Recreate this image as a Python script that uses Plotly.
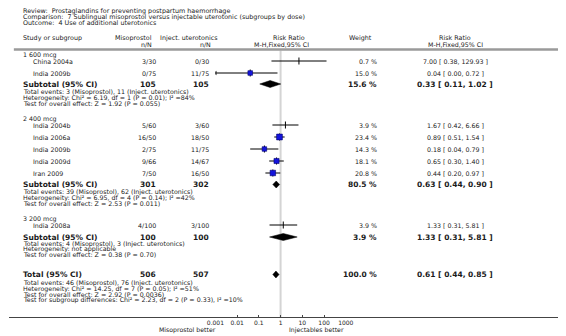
import plotly.graph_objects as go

W, H = 566, 336

# ---------------- data ----------------
review = "Review:  Prostaglandins for preventing postpartum haemorrhage"
comparison = "Comparison:  7 Sublingual misoprostol versus injectable uterotonic (subgroups by dose)"
outcome = "Outcome:  4 Use of additional uterotonics"

subgroups = ["1 600 mcg", "2 400 mcg", "3 200 mcg"]
study_names = [["China 2004a", "India 2009b"],
               ["India 2004b", "India 2006a", "India 2009b", "India 2009d", "Iran 2009"],
               ["India 2008a"]]
miso_events = [[3, 0], [5, 16, 2, 9, 7], [4]]
miso_total = [[30, 75], [60, 50, 75, 66, 50], [100]]
inj_events = [[0, 11], [3, 18, 11, 14, 16], [3]]
inj_total = [[30, 75], [60, 50, 75, 67, 50], [100]]
weights = [[0.7, 15.0], [3.9, 23.4, 14.3, 18.1, 20.8], [3.9]]
rr = [[7.00, 0.04], [1.67, 0.89, 0.18, 0.65, 0.44], [1.33]]
rr_lo = [[0.38, 0.00], [0.42, 0.51, 0.04, 0.30, 0.20], [0.31]]
rr_hi = [[129.93, 0.72], [6.66, 1.54, 0.79, 1.40, 0.97], [5.81]]

sub_miso_n = [105, 301, 100]
sub_inj_n = [105, 302, 100]
sub_weight = [15.6, 80.5, 3.9]
sub_rr = [0.33, 0.63, 1.33]
sub_lo = [0.11, 0.44, 0.31]
sub_hi = [1.02, 0.90, 5.81]
sub_stats = [
    ["Total events: 3 (Misoprostol), 11 (Inject. uterotonics)",
     "Heterogeneity: Chi² = 6.19, df = 1 (P = 0.01); I² =84%",
     "Test for overall effect: Z = 1.92 (P = 0.055)"],
    ["Total events: 39 (Misoprostol), 62 (Inject. uterotonics)",
     "Heterogeneity: Chi² = 6.95, df = 4 (P = 0.14); I² =42%",
     "Test for overall effect: Z = 2.53 (P = 0.011)"],
    ["Total events: 4 (Misoprostol), 3 (Inject. uterotonics)",
     "Heterogeneity: not applicable",
     "Test for overall effect: Z = 0.38 (P = 0.70)"],
]
total_miso_n = 506
total_inj_n = 507
total_weight = 100.0
total_rr, total_lo, total_hi = 0.61, 0.44, 0.85
total_stats = ["Total events: 46 (Misoprostol), 76 (Inject. uterotonics)",
               "Heterogeneity: Chi² = 14.25, df = 7 (P = 0.05); I² =51%",
               "Test for overall effect: Z = 2.92 (P = 0.0036)",
               "Test for subgroup differences: Chi² = 2.23, df = 2 (P = 0.33), I² =10%"]

tick_vals = [0.001, 0.01, 0.1, 1, 10, 100, 1000]
tick_text = ["0.001", "0.01", "0.1", "1", "10", "100", "1000"]
left_label = "Misoprostol better"
right_label = "Injectables better"

# ---------------- layout (pixel rows / columns) ----------------
FONT = "DejaVu Sans"
FS = 6.3       # regular text
FB = 7.5       # bold summary rows
title_y = [10.5, 16.5, 22.5]
hdr1_y, hdr2_y, hdr_line_y = 38, 44, 49.5
group_label_y = [55, 119, 219]
study_y = [[61, 73], [125, 137, 149, 161, 173], [225]]
sub_y = [84, 184.5, 237]
sub_stats_y = [[92, 97.7, 103.4], [192, 197.7, 203.4], [243.5, 249.2, 254.9]]
total_y = 274.5
total_stats_y = [283, 288.7, 294.4, 300.1]
axis_y = 317.5
better_y = 329.5

X_LEFT, X_STUDY = 13, 24
X_MISO_R, X_INJ_R = 153, 207
X_NULL = 280.0
DECADE = 22.4
X_WEIGHT_R = 380
X_RR_C = 460
AX_MIN, AX_MAX = 0.001, 1000
x0_px = X_NULL - 3 * DECADE
x1_px = X_NULL + 3 * DECADE

fig = go.Figure()


def txt(x, y, s, anchor="left", size=FS, bold=False, color="#1a1a1a"):
    fig.add_annotation(x=x, y=y, xref="x", yref="y",
                       text=("<b>%s</b>" % s) if bold else s,
                       showarrow=False, xanchor=anchor, yanchor="middle",
                       borderpad=0,
                       font=dict(family=FONT, size=size, color=color))


# titles
for s, y in zip([review, comparison, outcome], title_y):
    txt(X_LEFT, y, s, size=6.4)

# headers
txt(X_LEFT, hdr1_y, "Study or subgroup", size=6.4)
txt(148, hdr1_y, "Misoprostol", anchor="right", size=6.4)
txt(148, hdr2_y, "n/N", anchor="right")
txt(155, hdr1_y, "Inject. uterotonics", size=6.4)
txt(209, hdr2_y, "n/N", anchor="right")
txt(271, hdr1_y, "Risk Ratio", size=6.4)
txt(252, hdr2_y, "M-H,Fixed,95% CI")
txt(362, hdr1_y, "Weight", anchor="center", size=6.4)
txt(X_RR_C, hdr1_y, "Risk Ratio", anchor="center", size=6.4)
txt(X_RR_C, hdr2_y, "M-H,Fixed,95% CI", anchor="center")

fig.add_shape(type="line", xref="x", yref="y", x0=5, x1=W, y0=hdr_line_y, y1=hdr_line_y,
              line=dict(color="#9a9a9a", width=2.5))

# null line
fig.add_trace(go.Scatter(x=[1, 1], y=[hdr_line_y + 1, axis_y], mode="lines", xaxis="x2", yaxis="y",
                         line=dict(color="#d4d4d4", width=2), hoverinfo="skip", showlegend=False))

fmt_rr = lambda a, b, c: "%.2f [ %.2f, %.2f ]" % (a, b, c)

for g in range(len(subgroups)):
    txt(X_LEFT, group_label_y[g], subgroups[g])
    for i, name in enumerate(study_names[g]):
        y = study_y[g][i]
        txt(X_STUDY, y, name)
        txt(X_MISO_R, y, "%d/%d" % (miso_events[g][i], miso_total[g][i]), anchor="right")
        txt(X_INJ_R, y, "%d/%d" % (inj_events[g][i], inj_total[g][i]), anchor="right")
        txt(X_WEIGHT_R, y, "%.1f %%" % weights[g][i], anchor="right")
        txt(X_RR_C, y, fmt_rr(rr[g][i], rr_lo[g][i], rr_hi[g][i]), anchor="center")
        lo = max(rr_lo[g][i], AX_MIN)
        hi = min(rr_hi[g][i], AX_MAX)
        fig.add_trace(go.Scatter(x=[lo, hi], y=[y, y], mode="lines", xaxis="x2", yaxis="y",
                                 line=dict(color="black", width=1), hoverinfo="skip", showlegend=False))
        if rr_lo[g][i] < AX_MIN:
            fig.add_trace(go.Scatter(x=[AX_MIN], y=[y], mode="markers", xaxis="x2", yaxis="y",
                                     marker=dict(symbol="triangle-left", size=4, color="black"),
                                     hoverinfo="skip", showlegend=False))
        fig.add_trace(go.Scatter(x=[rr[g][i]], y=[y], mode="markers", xaxis="x2", yaxis="y",
                                 marker=dict(symbol="line-ns", size=5, line=dict(color="black", width=1)),
                                 hoverinfo="skip", showlegend=False))
        side = 1.2 * weights[g][i] ** 0.5
        if side >= 3:
            fig.add_trace(go.Scatter(x=[rr[g][i]], y=[y], mode="markers", xaxis="x2", yaxis="y",
                                     marker=dict(symbol="square", size=side, color="#1414dc",
                                                 line=dict(color="#000070", width=0.6)),
                                     hoverinfo="skip", showlegend=False))
    # subtotal
    y = sub_y[g]
    txt(X_LEFT, y, "Subtotal (95% CI)", size=FB, bold=True)
    txt(X_MISO_R, y, str(sub_miso_n[g]), anchor="right", size=FB, bold=True)
    txt(X_INJ_R, y, str(sub_inj_n[g]), anchor="right", size=FB, bold=True)
    txt(X_WEIGHT_R, y, "%.1f %%" % sub_weight[g], anchor="right", size=FB, bold=True)
    txt(X_RR_C, y, fmt_rr(sub_rr[g], sub_lo[g], sub_hi[g]), anchor="center", size=FB, bold=True)
    fig.add_trace(go.Scatter(x=[sub_lo[g], sub_rr[g], sub_hi[g], sub_rr[g], sub_lo[g]],
                             y=[y, y - 3.5, y, y + 3.5, y], mode="lines", fill="toself",
                             fillcolor="black", xaxis="x2", yaxis="y",
                             line=dict(color="black", width=0.5), hoverinfo="skip", showlegend=False))
    for s, yy in zip(sub_stats[g], sub_stats_y[g]):
        txt(X_LEFT, yy, s)

# total
y = total_y
txt(X_LEFT, y, "Total (95% CI)", size=FB, bold=True)
txt(X_MISO_R, y, str(total_miso_n), anchor="right", size=FB, bold=True)
txt(X_INJ_R, y, str(total_inj_n), anchor="right", size=FB, bold=True)
txt(X_WEIGHT_R, y, "%.1f %%" % total_weight, anchor="right", size=FB, bold=True)
txt(X_RR_C, y, fmt_rr(total_rr, total_lo, total_hi), anchor="center", size=FB, bold=True)
fig.add_trace(go.Scatter(x=[total_lo, total_rr, total_hi, total_rr, total_lo],
                         y=[y, y - 3.5, y, y + 3.5, y], mode="lines", fill="toself",
                         fillcolor="black", xaxis="x2", yaxis="y",
                         line=dict(color="black", width=0.5), hoverinfo="skip", showlegend=False))
for s, yy in zip(total_stats, total_stats_y):
    txt(X_LEFT, yy, s)

# bottom separator / axis line across the full width
fig.add_shape(type="line", xref="x", yref="y", x0=0, x1=W, y0=axis_y, y1=axis_y,
              line=dict(color="#444444", width=1.2))

txt(214, better_y, left_label, anchor="right", size=6.2)
txt(288, better_y, right_label, anchor="left", size=6.2)

fig.update_layout(
    width=W, height=H, margin=dict(l=0, r=0, t=0, b=0),
    paper_bgcolor="white", plot_bgcolor="rgba(0,0,0,0)", showlegend=False,
    hovermode=False, dragmode=False,
    xaxis=dict(range=[0, W], domain=[0, 1], visible=False, fixedrange=True),
    yaxis=dict(range=[H, 0], domain=[0, 1], visible=False, fixedrange=True),
    xaxis2=dict(type="log", range=[-3, 3], domain=[x0_px / W, x1_px / W],
                anchor="free", position=(H - axis_y) / H,
                showgrid=False, zeroline=False, showline=False,
                tickvals=tick_vals, ticktext=tick_text, ticks="inside", ticklen=3,
                tickcolor="#444", ticklabelstandoff=0,
                tickfont=dict(family=FONT, size=6, color="#1a1a1a"),
                fixedrange=True),
)

# remove the browser's default 8px body margin so the figure sits at the page origin
fig.write_html("out.html", config={"displayModeBar": False},
               post_script="document.body.style.margin='0px';")
